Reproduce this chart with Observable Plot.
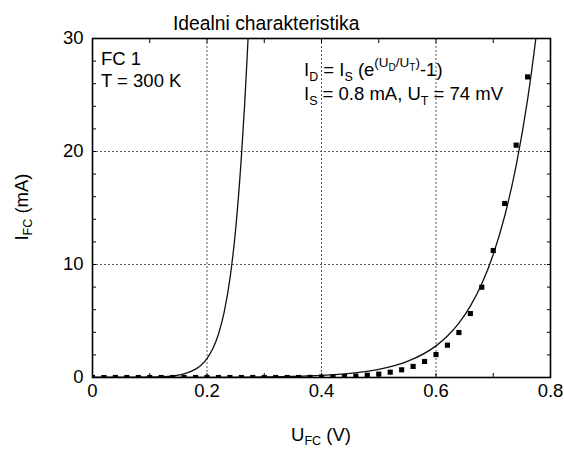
<!DOCTYPE html>
<html><head><meta charset="utf-8">
<script src="https://cdn.jsdelivr.net/npm/d3@7"></script>
<script src="https://cdn.jsdelivr.net/npm/@observablehq/plot@0.6"></script>
<style>
body{margin:0;background:#fff}
svg{font-family:"Liberation Sans",Arial,Helvetica,sans-serif}
</style>
</head><body><div id="chart"></div>
<script>
// Measured points (U_FC in V, I_FC in mA)
const measuredU = [0,0.02,0.04,0.06,0.08,0.10,0.12,0.14,0.16,0.18,0.20,0.22,0.24,0.26,0.28,0.30,0.32,0.34,0.36,0.38,0.40,0.42,0.44,0.46,0.48,0.50,0.52,0.54,0.56,0.58,0.60,0.62,0.64,0.66,0.68,0.70,0.72,0.74,0.76];
const measuredI = [0,0,0,0,0,0,0,0,0,0,0,0,0,0,0,0,0,0,0,0.01,0.03,0.05,0.08,0.12,0.2,0.3,0.47,0.68,0.98,1.42,2.03,2.86,3.98,5.66,7.99,11.24,15.4,20.56,26.6];
// Ideal characteristic curve
const idealU = [0,0.05,0.10,0.12,0.14,0.16,0.18,0.19,0.20,0.21,0.22,0.23,0.24,0.25,0.26,0.27,0.2717,0.275];
const idealI = [0,0.002,0.02,0.06,0.14,0.32,0.74,1.11,1.68,2.54,3.83,5.78,8.72,13.1,19.5,28.2,30,33.9];
// Fitted curve
const fitU = [0,0.10,0.20,0.30,0.35,0.40,0.45,0.50,0.55,0.60,0.62,0.64,0.66,0.68,0.70,0.72,0.74,0.76,0.775,0.78];
const fitI = [0,0.002,0.011,0.047,0.093,0.184,0.363,0.717,1.42,2.80,3.67,4.81,6.32,8.29,10.89,14.29,18.75,24.61,30.26,32.4];
// Ticks / grid
const xTicks = [0,0.2,0.4,0.6,0.8];
const yTicks = [0,10,20,30];
const xMinor = [0,0.1,0.2,0.3,0.4,0.5,0.6,0.7,0.8];
const yMinor = [0,2,4,6,8,10,12,14,16,18,20,22,24,26,28,30];
const xGrid = [0.2,0.4,0.6];
const yGrid = [10,20];

const measured = measuredU.map((u,i)=>({u, i: measuredI[i]}));
const ideal = idealU.map((u,i)=>({u, i: idealI[i]}));
const fit = fitU.map((u,i)=>({u, i: fitI[i]}));

const FONT = 18.5;
const plot = Plot.plot({
  width: 564, height: 449,
  marginTop: 38, marginRight: 14, marginBottom: 72, marginLeft: 92,
  x: {domain: [0, 0.8]},
  y: {domain: [0, 30]},
  style: {fontFamily: '"Liberation Sans", Arial, sans-serif', fontSize: FONT + "px", color: "#000", background: "#fff", overflow: "visible"},
  marks: [
    Plot.ruleX(xGrid, {stroke: "#555", strokeDasharray: "2,2", strokeWidth: 1}),
    Plot.ruleY(yGrid, {stroke: "#555", strokeDasharray: "2,2", strokeWidth: 1}),
    Plot.line(ideal, {x: "u", y: "i", stroke: "#111", strokeWidth: 1.3, curve: "monotone-x", clip: true}),
    Plot.line(fit, {x: "u", y: "i", stroke: "#111", strokeWidth: 1.3, curve: "monotone-x", clip: true}),
    Plot.dot(measured, {x: "u", y: "i", symbol: "square", r: 2.9, fill: "#000", stroke: null, clip: true}),
    Plot.axisX(xMinor, {anchor: "bottom", tickSize: -4, text: null, label: null}),
    Plot.axisX(xMinor, {anchor: "top", tickSize: -4, text: null, label: null}),
    Plot.axisY(yMinor, {anchor: "left", tickSize: -4, text: null, label: null}),
    Plot.axisY(yMinor, {anchor: "right", tickSize: -4, text: null, label: null}),
    Plot.axisX(xTicks, {anchor: "bottom", tickSize: 0, tickPadding: 6, label: null, fontSize: FONT, tickFormat: d => d === 0 ? "0" : d.toFixed(1)}),
    Plot.axisY(yTicks, {anchor: "left", tickSize: 0, tickPadding: 9, label: null, fontSize: FONT}),
    Plot.frame({stroke: "#000", strokeWidth: 1.6})
  ]
});
document.getElementById("chart").append(plot);

const svg = d3.select(plot);
// parts: [text, size, offset] offset = baseline shift (positive = down)
function rich(x, y, parts, anchor, rotate) {
  const t = svg.append("text").attr("x", x).attr("y", y).attr("fill", "#000")
    .attr("text-anchor", anchor || "start")
    .style("font-family", '"Liberation Sans", Arial, sans-serif');
  if (rotate) t.attr("transform", `rotate(${rotate},${x},${y})`);
  let cur = 0;
  for (const [txt, size, off] of parts) {
    t.append("tspan").attr("dy", off - cur).style("font-size", size + "px").text(txt);
    cur = off;
  }
  return t;
}
const S = FONT, s = 12.5, sp = 13.5, ss = 10;
rich(173, 30, [["Idealni charakteristika", 19.3, 0]]);
rich(101, 65, [["FC 1", S, 0]]);
rich(101, 87, [["T = 300 K", S, 0]]);
rich(304, 76, [["I", S, 0], ["D", s, 5], [" = I", S, 0], ["S", s, 5], [" (e", S, 0],
  ["(U", sp, -9], ["D", ss, -5], ["/U", sp, -9], ["T", ss, -5], [")", sp, -9], ["-1)", S, 0]]);
rich(304, 100, [["I", S, 0], ["S", s, 5], [" = 0.8 mA, U", S, 0], ["T", s, 5], [" = 74 mV", S, 0]]);
rich(321, 441, [["U", S, 0], ["FC", s, 4], [" (V)", S, 0]], "middle");
rich(28, 207, [["I", S, 0], ["FC", s, 4], [" (mA)", S, 0]], "middle", -90);
</script>
</body></html>
